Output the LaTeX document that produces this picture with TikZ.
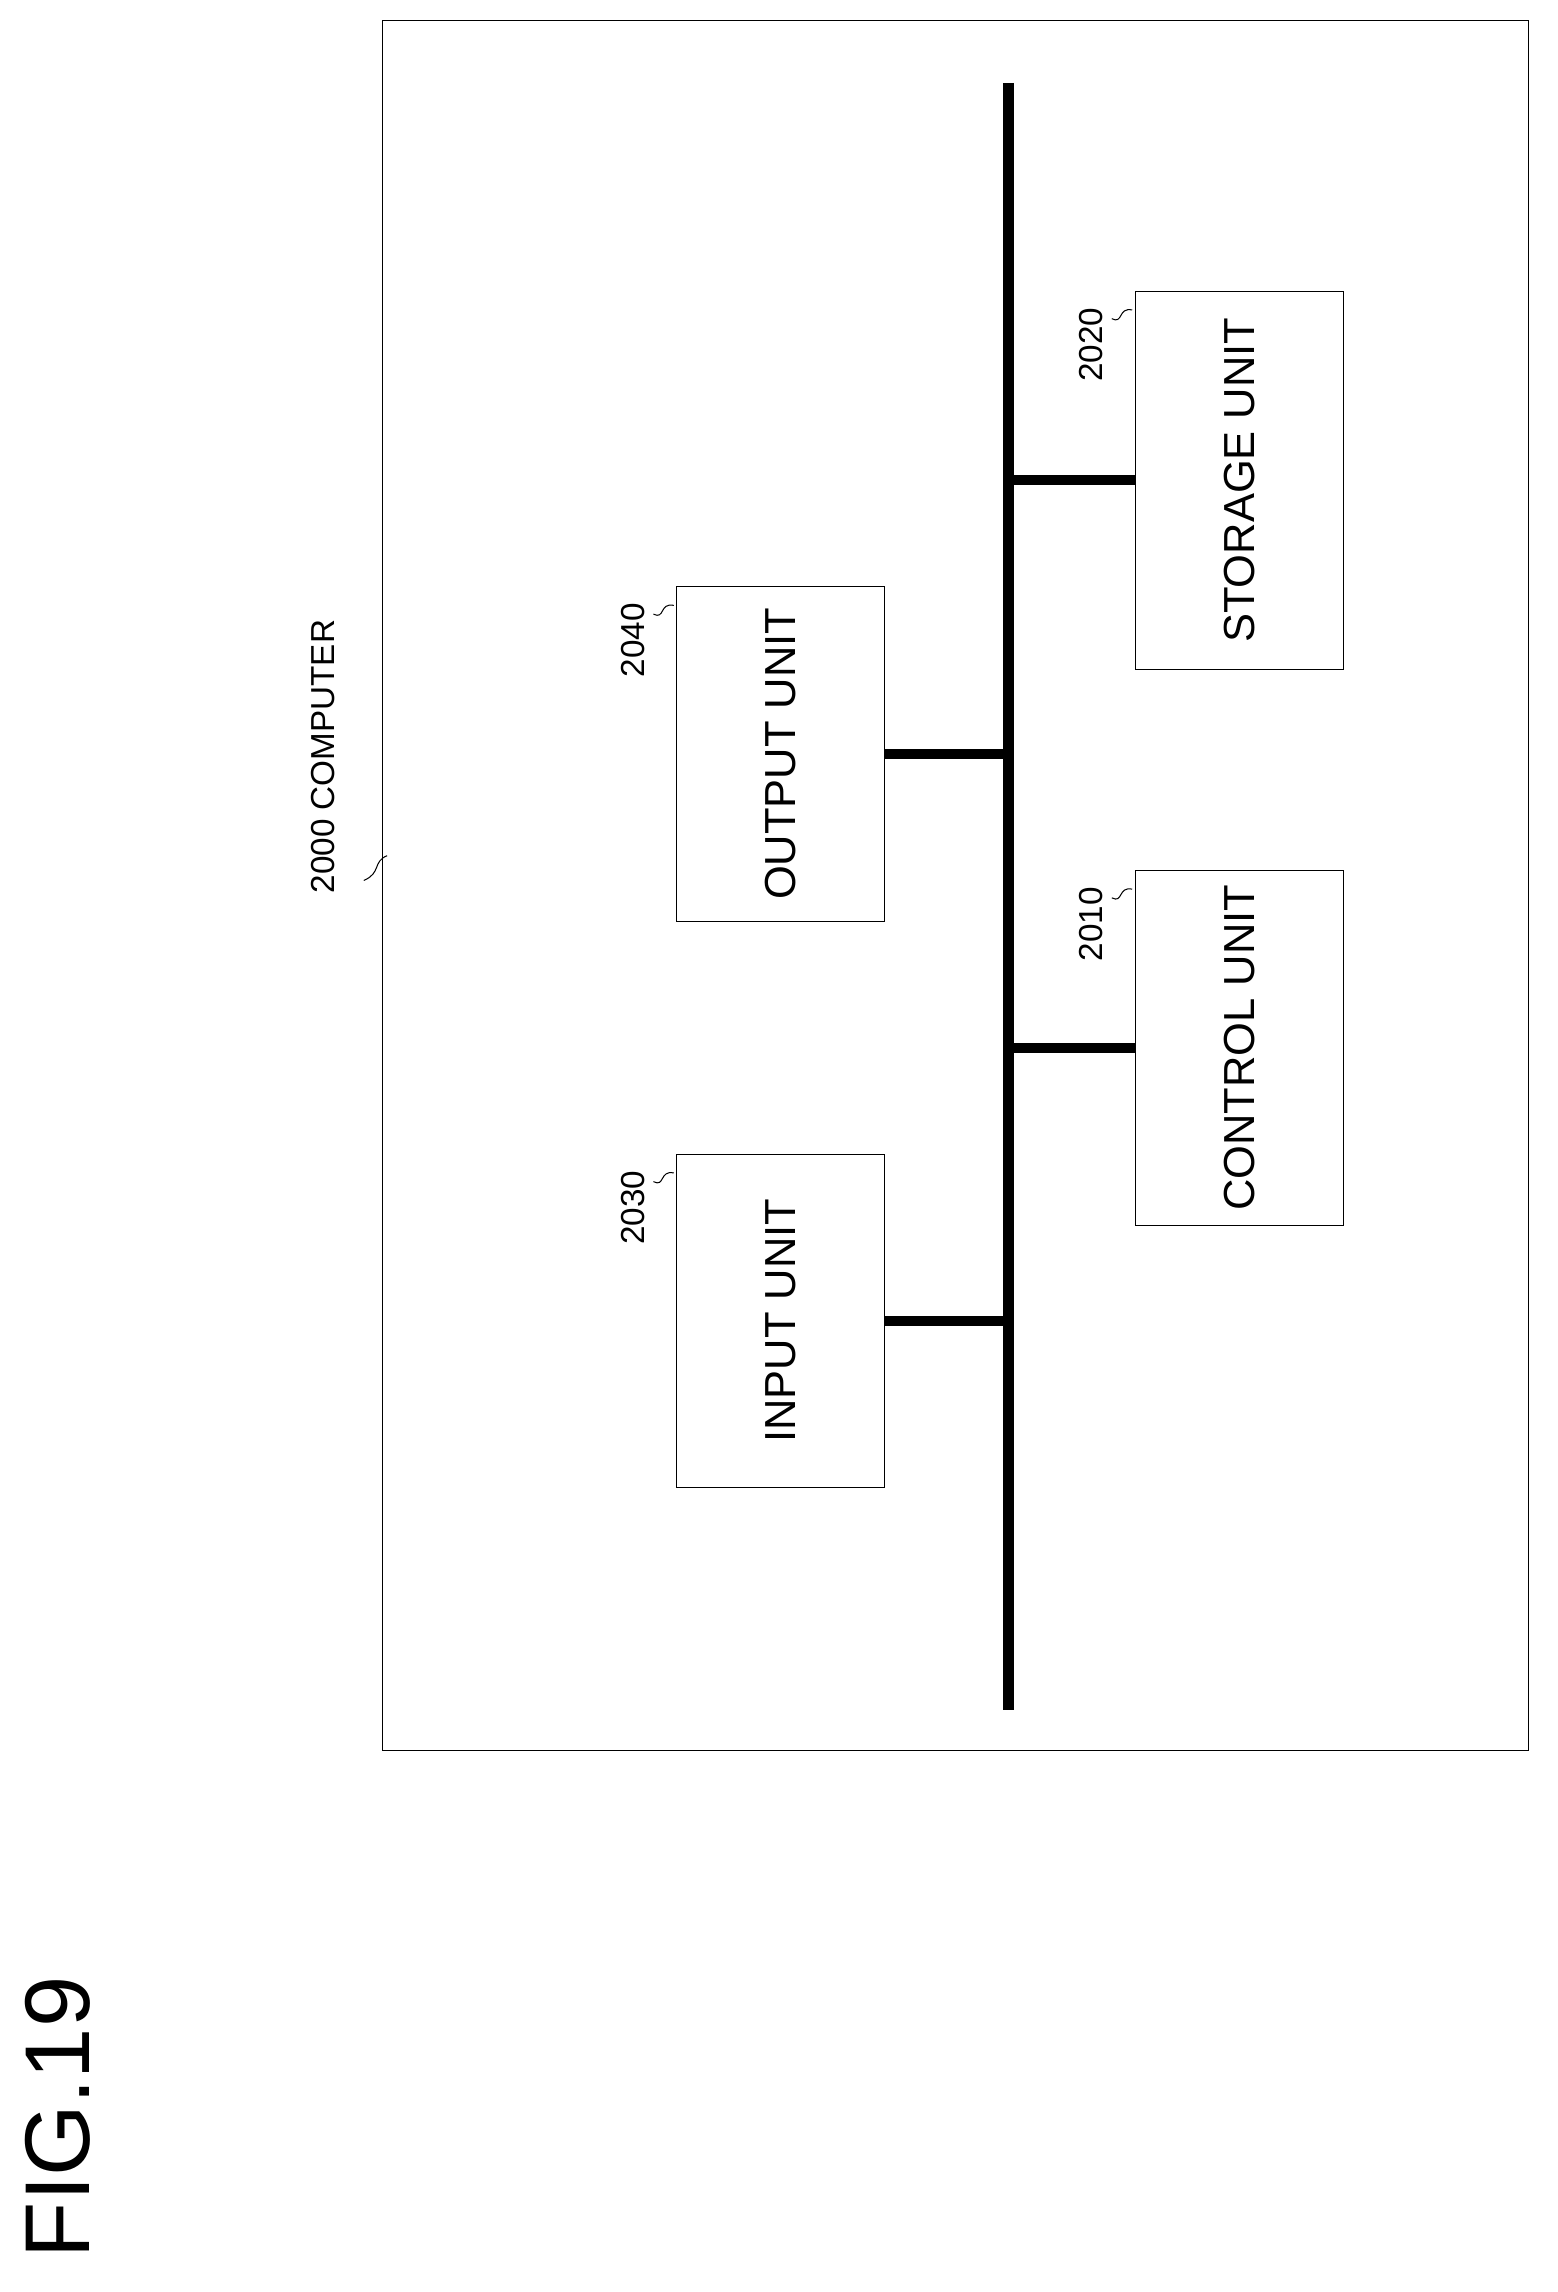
\documentclass[tikz,border=0pt]{standalone}
\usepackage{fontspec}
\setmainfont{Liberation Sans}
\usetikzlibrary{positioning}
\tikzset{
	unit/.style={draw,thin,minimum width=4.7cm,minimum height=2.86cm,rotate=90,font=\fontsize{17}{20}\selectfont},
	busline/.style={line width=4pt},
	refno/.style={font=\fontsize{13}{15}\selectfont,rotate=90},
}
\begin{document}
\begin{tikzpicture}[x=0.02cm,y=-0.02cm]
	\useasboundingbox (0,0) rectangle (1070,1575);
	\node [rotate=90,font=\fontsize{36}{40}\selectfont] (fig) at (40,1455){FIG.19};
	\draw [thin] (263,14) rectangle (1050,1203);
	\node [refno,anchor=south west] (lblComp) at (236,620){2000 COMPUTER};
	\draw (250,605) .. controls (262,600) and (256,592) .. (266,588);
	% bus
	\coordinate (busTop) at (693,57);
	\coordinate (busBot) at (693,1175);
	\draw [busline] (busTop) -- (busBot);
	% units
	\node [unit,minimum width=4.58cm] (input) at (536.5,907.5){INPUT UNIT};
	\node [unit,minimum width=4.6cm] (output) at (536.5,518){OUTPUT UNIT};
	\node [unit,minimum width=4.88cm] (control) at (851.5,720){CONTROL UNIT};
	\node [unit,minimum width=5.2cm] (storage) at (851.5,330){STORAGE UNIT};
	\draw [busline] (input.south) -- (input.south -| busTop);
	\draw [busline] (output.south) -- (output.south -| busTop);
	\draw [busline] (control.north) -- (control.north -| busTop);
	\draw [busline] (storage.north) -- (storage.north -| busTop);
	% reference numbers
	\foreach \num/\xx/\yy in {2030/435/830,2040/435/440,2010/750/635,2020/750/237}{
		\node [refno] (n\num) at (\xx,\yy){\num};
		\draw (\xx+14,\yy-18) .. controls (\xx+22,\yy-14) and (\xx+18,\yy-26) .. (\xx+28,\yy-24);
	}
\end{tikzpicture}
\end{document}
